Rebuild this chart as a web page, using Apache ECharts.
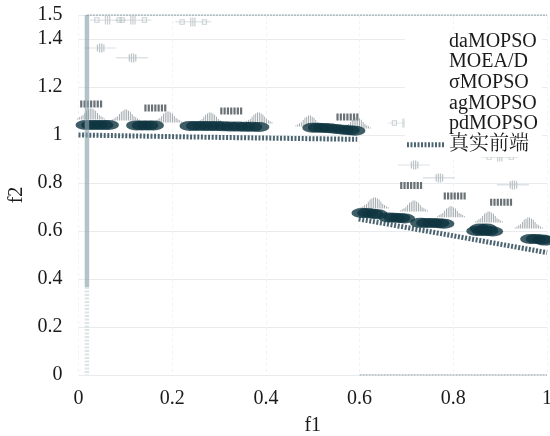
<!DOCTYPE html>
<html>
<head>
<meta charset="utf-8">
<script src="https://cdn.jsdelivr.net/npm/echarts@6/dist/echarts.min.js"></script>
<style>html,body{margin:0;padding:0;background:#fff}#c{width:550px;height:436px}</style>
</head>
<body>
<div id="c"></div>
<script>
// ---- data ----
const legendNames = ['daMOPSO', 'MOEA/D', 'σMOPSO', 'agMOPSO', 'pdMOPSO', '真实前端'];
const xName = 'f1';
const yName = 'f2';
const xMin = 0, xMax = 1, xStep = 0.2;
const yMin = 0, yMax = 1.5, yStep = 0.2;

const trueFrontA = [[0.0, 1.0], [0.3, 0.99], [0.595, 0.982]];
const trueFrontB = [[0.598, 0.65], [0.8, 0.58], [1.0, 0.51]];

const pdMOPSO = [
  [0.016, 1.042], [0.028, 1.042], [0.04, 1.042], [0.052, 1.042], [0.064, 1.042],
  [0.124, 1.04], [0.136, 1.04], [0.148, 1.04], [0.16, 1.04],
  [0.238, 1.038], [0.252, 1.038], [0.266, 1.038], [0.28, 1.037], [0.295, 1.037], [0.31, 1.036],
  [0.325, 1.035], [0.34, 1.035], [0.355, 1.034], [0.37, 1.034], [0.385, 1.033],
  [0.5, 1.03], [0.512, 1.03], [0.524, 1.029], [0.536, 1.028],
  [0.55, 1.025], [0.565, 1.022], [0.578, 1.02], [0.59, 1.018],
  [0.605, 0.675], [0.617, 0.675], [0.628, 0.672], [0.638, 0.67],
  [0.662, 0.656], [0.674, 0.655], [0.686, 0.654], [0.696, 0.652],
  [0.73, 0.634], [0.743, 0.633], [0.756, 0.633], [0.769, 0.632], [0.78, 0.63],
  [0.85, 0.6], [0.862, 0.6], [0.874, 0.6], [0.884, 0.598], [0.857, 0.61], [0.871, 0.61],
  [0.965, 0.567], [0.977, 0.567], [0.99, 0.565], [0.995, 0.56]
];
const agMOPSO = [
  [0.027, 1.0875], [0.101, 1.083], [0.191, 1.075], [0.281, 1.071], [0.384, 1.071], [0.493, 1.058], [0.594, 1.05],
  [0.632, 0.717], [0.716, 0.704], [0.795, 0.68], [0.876, 0.658], [0.961, 0.633]
];
const sigmaMOPSO = [
  [0.027, 1.129], [0.164, 1.1125], [0.326, 1.1], [0.574, 1.075],
  [0.71, 0.79], [0.803, 0.746], [0.902, 0.72]
];
const moead = [
  [0.046, 1.3625], [0.114, 1.321], [0.716, 0.875], [0.769, 0.821], [0.927, 0.792]
];
const daMOPSO = [
  [0.063, 1.479], [0.117, 1.479], [0.245, 1.471], [0.698, 1.05], [0.9, 0.908]
];
const guideBar = [[0.018, 1.5], [0.018, 0.367]];
const guideBarTail = [[0.018, 0.367], [0.018, 0]];
const topLine = [[0.018, 1.5], [1, 1.5]];
const bottomLine = [[0.6, 0], [1, 0]];

// ---- styles ----
function barsPath(heights, H, barW, step) {
  return 'path://' + heights.map((h, i) => `M${i * step},${H - h}h${barW}v${h}h-${barW}z`).join('');
}
const hillSymbol = barsPath([1, 2, 3, 4, 6, 8, 9, 10, 10, 9, 8, 6, 4, 3, 2, 1], 10, 1, 2);
const rectSymbol = barsPath([6, 6, 6, 6, 6, 6, 6], 6, 2, 3);
const dashIcon = barsPath([5, 5, 5, 5, 5, 5, 5, 5, 5, 5, 5], 5, 2, 3.6);
const moeadSymbol = 'path://M0,4.6h30v0.8h-30zM12,1h1.2v8h-1.2zM14,0h1.2v10h-1.2zM16,0h1.2v10h-1.2zM18,1h1.2v8h-1.2z';
const daSymbol = 'path://M0,4.6h34v0.8h-34zM4,2h1v6h-1zM8,2h1v6h-1zM4,2h5v1h-5zM4,7h5v1h-5zM14,0h1.2v10h-1.2zM16,0h1.2v10h-1.2zM18,0h1.2v10h-1.2zM25,2h1v6h-1zM29,2h1v6h-1zM25,2h5v1h-5zM25,7h5v1h-5z';
const FONT = "'Liberation Serif','Times New Roman','Noto Serif CJK SC','Noto Sans CJK SC',serif";
const FRONT_COLOR = '#4b6470';
const frontLine = { color: FRONT_COLOR, width: 5, type: [2, 1.6] };
const hidden = { opacity: 0, color: 'transparent' };

const chart = echarts.init(document.getElementById('c'), null, { renderer: 'canvas' });
chart.setOption({
  animation: false,
  backgroundColor: '#ffffff',
  textStyle: { fontFamily: FONT },
  grid: { left: 78.5, right: 3, top: 15, bottom: 61, outerBoundsMode: 'none', containLabel: false },
  legend: {
    data: legendNames.map((n, i) => i < 5
      ? { name: n, itemStyle: hidden, lineStyle: hidden }
      : { name: n, icon: dashIcon, itemStyle: { color: FRONT_COLOR } }),
    orient: 'vertical',
    left: 405, top: 29,
    itemWidth: 37, itemHeight: 14, itemGap: 0.2,
    backgroundColor: '#ffffff',
    padding: [2, 4, 2, 2],
    textStyle: { fontFamily: FONT, fontSize: 20, lineHeight: 20.5, color: '#1a1a1a' }
  },
  xAxis: {
    type: 'value', min: xMin, max: xMax, interval: xStep,
    name: xName, nameLocation: 'middle', nameGap: 41,
    nameTextStyle: { fontFamily: FONT, fontSize: 20, color: '#1a1a1a' },
    axisLine: { show: false }, axisTick: { show: false },
    axisLabel: { fontFamily: FONT, fontSize: 20, color: '#1a1a1a', margin: 14 },
    splitLine: { show: true, lineStyle: { color: '#f0f2f3', type: [3, 3] } }
  },
  yAxis: {
    type: 'value', min: yMin, max: yMax, interval: yStep,
    name: yName, nameLocation: 'middle', nameGap: 50, nameRotate: 90,
    nameTextStyle: { fontFamily: FONT, fontSize: 20, color: '#1a1a1a' },
    axisLine: { show: false }, axisTick: { show: false },
    axisLabel: { fontFamily: FONT, fontSize: 20, color: '#1a1a1a', margin: 16 },
    splitLine: { show: true, lineStyle: { color: '#e8ecee', width: 1 } }
  },
  series: [
    { type: 'line', data: topLine, symbol: 'none', silent: true, z: 1,
      lineStyle: { color: '#9fb0b8', width: 1.5, type: [2, 1] } },
    { type: 'line', data: bottomLine, symbol: 'none', silent: true, z: 1,
      lineStyle: { color: '#a9b3b8', width: 1.5, type: [2, 1] } },
    { name: '真实前端', type: 'line', data: trueFrontA, symbol: 'none', silent: true, z: 2,
      lineStyle: frontLine, itemStyle: { color: FRONT_COLOR } },
    { name: '真实前端', type: 'line', data: trueFrontB, symbol: 'none', silent: true, z: 2,
      lineStyle: frontLine, itemStyle: { color: FRONT_COLOR } },
    { name: 'daMOPSO', type: 'scatter', data: daMOPSO, symbol: daSymbol, symbolSize: [36, 9], z: 3,
      itemStyle: { color: '#b3bdc1', opacity: 0.7 } },
    { name: 'MOEA/D', type: 'scatter', data: moead, symbol: moeadSymbol, symbolSize: [32, 9], z: 3,
      itemStyle: { color: '#a8b2b7', opacity: 0.75 } },
    { name: 'σMOPSO', type: 'scatter', data: sigmaMOPSO, symbol: rectSymbol, symbolSize: [22, 7], z: 4,
      itemStyle: { color: '#434e53' } },
    { name: 'agMOPSO', type: 'scatter', data: agMOPSO, symbol: hillSymbol, symbolSize: [28, 11], z: 4,
      itemStyle: { color: '#858f94' } },
    { name: 'pdMOPSO', type: 'scatter', data: pdMOPSO, symbol: 'circle', symbolSize: [21, 10], z: 5,
      itemStyle: { color: '#0e3440' } },
    { type: 'line', data: guideBar, symbol: 'none', silent: true, z: 6,
      lineStyle: { color: 'rgba(140,162,173,0.65)', width: 4.5 } },
    { type: 'line', data: guideBarTail, symbol: 'none', silent: true, z: 6,
      lineStyle: { color: 'rgba(180,195,202,0.45)', width: 4.5, type: [2, 1.5] } }
  ]
});
</script>
</body>
</html>
